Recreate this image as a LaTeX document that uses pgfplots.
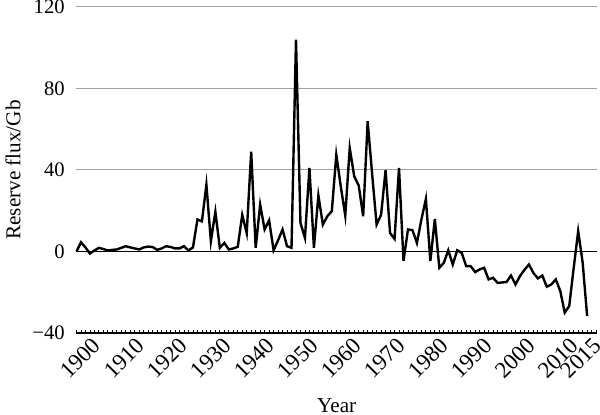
\documentclass[border=0pt]{standalone}
\usepackage{fontspec}
\setmainfont{Liberation Serif}
\usepackage{pgfplots}
\pgfplotsset{compat=1.18}
\definecolor{gridgray}{RGB}{160,160,160}

% reserve flux per year, Gb
\pgfplotstableread{
year flux
1900 0
1901 4.5
1902 2
1903 -1
1904 0.5
1905 1.8
1906 1.2
1907 0.5
1908 0.8
1909 1
1910 1.8
1911 2.6
1912 2
1913 1.5
1914 1
1915 2
1916 2.4
1917 2.2
1918 0.8
1919 1.5
1920 2.6
1921 2.2
1922 1.5
1923 1.5
1924 2.6
1925 0.5
1926 2
1927 15.7
1928 14.8
1929 32.8
1930 5
1931 19.5
1932 1.8
1933 4.2
1934 1
1935 1.5
1936 2.3
1937 18
1938 9
1939 49
1940 1.8
1941 23
1942 10.8
1943 15.3
1944 0.6
1945 5.5
1946 10.8
1947 2.6
1948 1.8
1949 104
1950 14
1951 6.7
1952 41
1953 1.8
1954 27.5
1955 13.2
1956 17.3
1957 19.8
1958 47.5
1959 32
1960 17.6
1961 50.8
1962 36.9
1963 32.4
1964 17.3
1965 63.9
1966 38
1967 13.2
1968 18
1969 39.9
1970 9.1
1971 6.2
1972 41
1973 -4.7
1974 10.8
1975 10.5
1976 4.2
1977 15.7
1978 25.8
1979 -4.7
1980 16
1981 -8
1982 -5.6
1983 0.6
1984 -6.4
1985 0.6
1986 -0.7
1987 -7.2
1988 -7.2
1989 -10.1
1990 -8.8
1991 -8
1992 -13.7
1993 -12.9
1994 -15.4
1995 -15.2
1996 -15
1997 -11.8
1998 -16.2
1999 -12.1
2000 -9
2001 -6.4
2002 -10.5
2003 -13.2
2004 -11.8
2005 -17.3
2006 -16.2
2007 -13.7
2008 -19.4
2009 -30
2010 -26.8
2011 -8
2012 10
2013 -5.5
2014 -31.7
}\fluxdata

\begin{document}
\begin{tikzpicture}
\begin{axis}[
    width=260.25pt, height=163pt, scale only axis,
    xmin=1900, xmax=2016.2, ymin=-40, ymax=120,
    axis x line*=bottom, axis y line*=left,
    y axis line style={draw=none},
    x axis line style={black, line width=0.6pt},
    ytick={-40,0,40,80,120},
    yticklabels={−40,0,40,80,120},
    ymajorgrids, grid style={gridgray, line width=0.5pt},
    extra y ticks={0}, extra y tick labels={},
    extra y tick style={grid style={black, line width=0.7pt}},
    xtick={1903.3,1913.0,1922.7,1932.4,1942.1,1951.8,1961.5,1971.2,1980.9,1990.6,2000.3,2010.0,2015.0},
    xticklabels={1900,1910,1920,1930,1940,1950,1960,1970,1980,1990,2000,2010,2015},
    minor xtick={1900,...,2016},
    tick align=inside, major tick length=0pt, minor tick length=1.6pt,
    minor tick style={black, line width=0.4pt},
    xticklabel style={rotate=45, anchor=north east, inner sep=1pt,
        font=\fontsize{11.5}{13}\selectfont},
    yticklabel style={xshift=-2.4pt, font=\fontsize{10.3}{12}\selectfont},
    xlabel={Year}, ylabel={Reserve flux/Gb},
    label style={font=\fontsize{10.6}{13}\selectfont},
    xlabel style={at={(axis description cs:0.5,0)}, anchor=center, yshift=-36.2pt},
    ylabel style={at={(axis description cs:-0.122,0.5)}, anchor=center},
    clip=false,
]
\addplot[black, line width=1.2pt, mark=none] table[x=year, y=flux] {\fluxdata};
\end{axis}
\pgfresetboundingbox
\path[use as bounding box] ([shift={(-38.25pt,-41pt)}]current axis.south west) rectangle ([shift={(1.5pt,3.5pt)}]current axis.north east);
\end{tikzpicture}
\end{document}
